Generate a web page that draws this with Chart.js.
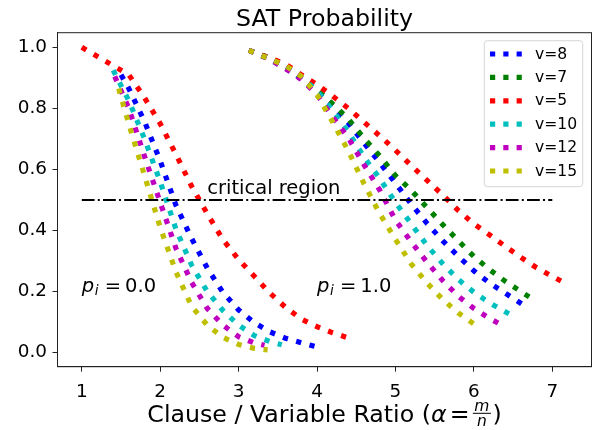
<!DOCTYPE html>
<html>
<head>
<meta charset="utf-8">
<script src="https://cdn.jsdelivr.net/npm/chart.js@4.4.1/dist/chart.umd.min.js"></script>
<style>
  html, body { margin: 0; padding: 0; background: #ffffff; }
  canvas { display: block; }
</style>
</head>
<body>
<canvas id="c" width="593" height="430" style="width:593px;height:430px"></canvas>
<script>
// ---------------- DATA ----------------
const chartTitle = 'SAT Probability';
const seriesLabels = ['v=8', 'v=7', 'v=5', 'v=10', 'v=12', 'v=15'];

// p_i = 0.0 curves (left group)
const aLeftV8  = [1.5, 1.6, 1.8, 2.0, 2.2, 2.4, 2.6, 2.8, 3.0, 3.2, 3.4, 3.6, 3.8, 3.97];
const pLeftV8  = [0.91, 0.865, 0.757, 0.628, 0.483, 0.374, 0.277, 0.197, 0.14, 0.098, 0.068, 0.047, 0.032, 0.021];
const aLeftV5  = [1.0, 1.2, 1.4, 1.6, 1.8, 2.0, 2.2, 2.4, 2.6, 2.8, 3.0, 3.2, 3.4, 3.6, 3.8, 4.0, 4.2, 4.4];
const pLeftV5  = [1.0, 0.97, 0.94, 0.91, 0.835, 0.75, 0.65, 0.545, 0.455, 0.37, 0.305, 0.25, 0.195, 0.148, 0.11, 0.085, 0.065, 0.048];
const aLeftV10 = [1.4, 1.6, 1.8, 2.0, 2.2, 2.4, 2.6, 2.8, 3.0, 3.2, 3.4, 3.55];
const pLeftV10 = [0.925, 0.825, 0.70, 0.56, 0.405, 0.287, 0.20, 0.138, 0.09, 0.056, 0.036, 0.026];
const aLeftV12 = [1.42, 1.6, 1.8, 2.0, 2.2, 2.4, 2.6, 2.8, 3.0, 3.2, 3.33];
const pLeftV12 = [0.905, 0.80, 0.643, 0.492, 0.342, 0.23, 0.145, 0.09, 0.052, 0.032, 0.024];
const aLeftV15 = [1.47, 1.6, 1.8, 2.0, 2.2, 2.4, 2.6, 2.8, 3.0, 3.2, 3.37];
const pLeftV15 = [0.865, 0.748, 0.58, 0.41, 0.265, 0.152, 0.09, 0.05, 0.027, 0.014, 0.009];

// p_i = 1.0 curves (right group)
const aRightV8  = [3.13, 3.4, 3.6, 3.8, 4.0, 4.2, 4.4, 4.6, 4.8, 5.0, 5.2, 5.4, 5.6, 5.8, 6.0, 6.2, 6.4, 6.62];
const pRightV8  = [0.99, 0.965, 0.94, 0.895, 0.855, 0.808, 0.752, 0.686, 0.622, 0.555, 0.487, 0.424, 0.367, 0.316, 0.268, 0.228, 0.195, 0.158];
const aRightV7  = [3.13, 3.4, 3.6, 3.8, 4.0, 4.2, 4.4, 4.6, 4.8, 5.0, 5.2, 5.4, 5.6, 5.8, 6.0, 6.2, 6.4, 6.6, 6.71];
const pRightV7  = [0.99, 0.965, 0.94, 0.9, 0.86, 0.815, 0.765, 0.702, 0.644, 0.58, 0.532, 0.476, 0.42, 0.367, 0.315, 0.272, 0.234, 0.2, 0.182];
const aRightV5  = [3.13, 3.4, 3.6, 3.8, 4.0, 4.2, 4.4, 4.6, 4.8, 5.0, 5.2, 5.4, 5.6, 5.8, 6.0, 6.2, 6.4, 6.6, 6.8, 7.0, 7.2];
const pRightV5  = [0.99, 0.965, 0.945, 0.91, 0.878, 0.84, 0.8, 0.755, 0.71, 0.663, 0.613, 0.565, 0.517, 0.466, 0.422, 0.386, 0.348, 0.312, 0.278, 0.25, 0.222];
const aRightV10 = [3.13, 3.4, 3.6, 3.8, 4.0, 4.2, 4.4, 4.6, 4.8, 5.0, 5.2, 5.4, 5.6, 5.8, 6.0, 6.2, 6.4, 6.5];
const pRightV10 = [0.99, 0.96, 0.93, 0.902, 0.858, 0.793, 0.722, 0.64, 0.57, 0.492, 0.422, 0.352, 0.292, 0.24, 0.198, 0.163, 0.134, 0.12];
const aRightV12 = [3.13, 3.4, 3.6, 3.8, 4.0, 4.2, 4.4, 4.6, 4.8, 5.0, 5.2, 5.4, 5.6, 5.8, 6.0, 6.2, 6.33];
const pRightV12 = [0.99, 0.96, 0.93, 0.895, 0.845, 0.772, 0.703, 0.615, 0.532, 0.434, 0.363, 0.297, 0.237, 0.185, 0.145, 0.112, 0.094];
const aRightV15 = [3.13, 3.4, 3.6, 3.8, 4.0, 4.2, 4.4, 4.6, 4.8, 5.0, 5.2, 5.4, 5.6, 5.8, 6.0];
const pRightV15 = [0.99, 0.962, 0.94, 0.905, 0.845, 0.755, 0.66, 0.553, 0.455, 0.371, 0.291, 0.229, 0.175, 0.13, 0.094];

// critical region reference line
const criticalA = [1.0, 7.0];
const criticalP = [0.5, 0.5];

// ticks
const xTicks = [1, 2, 3, 4, 5, 6, 7];
const yTicks = [0.0, 0.2, 0.4, 0.6, 0.8, 1.0];

// annotation texts
const annCritical = { text: 'critical region', a: 2.6, p: 0.52 };
const annP0 = { value: '0.0', a: 1.0, p: 0.2 };
const annP1 = { value: '1.0', a: 4.0, p: 0.2 };

// ---------------- STYLE ----------------
const FONT = "'DejaVu Sans', 'Liberation Sans', sans-serif";
const seriesColors = { 'v=8': '#0000ff', 'v=7': '#008000', 'v=5': '#ff0000', 'v=10': '#00bfbf', 'v=12': '#bf00bf', 'v=15': '#bfbf00' };
const LW = 5.2;
const DOT_DASH = [LW, 1.65 * LW];

function pts(xs, ys) { return xs.map((x, i) => ({ x: x, y: ys[i] })); }

const curveSpecs = [
  ['v=8', aLeftV8, pLeftV8], ['v=8', aRightV8, pRightV8],
  ['v=7', aRightV7, pRightV7],
  ['v=5', aLeftV5, pLeftV5], ['v=5', aRightV5, pRightV5],
  ['v=10', aLeftV10, pLeftV10], ['v=10', aRightV10, pRightV10],
  ['v=12', aLeftV12, pLeftV12], ['v=12', aRightV12, pRightV12],
  ['v=15', aLeftV15, pLeftV15], ['v=15', aRightV15, pRightV15]
];

const datasets = curveSpecs.map(([lab, xs, ys]) => ({
  label: lab,
  data: pts(xs, ys),
  borderColor: seriesColors[lab],
  backgroundColor: seriesColors[lab],
  borderWidth: LW,
  borderDash: DOT_DASH,
  borderCapStyle: 'butt',
  borderJoinStyle: 'round',
  pointRadius: 0,
  tension: 0,
  fill: false
}));
datasets.push({
  label: 'critical',
  data: pts(criticalA, criticalP),
  borderColor: '#000000',
  borderWidth: 2,
  borderDash: [12.8, 3.2, 2, 3.2],
  borderCapStyle: 'butt',
  pointRadius: 0,
  tension: 0,
  fill: false
});
const N = datasets.length;
datasets.forEach((d, i) => { d.order = N - i; });

// ---------------- PLUGINS ----------------
const framePlugin = {
  id: 'frame',
  afterDraw(chart) {
    const { ctx, chartArea: ca } = chart;
    ctx.save();
    ctx.strokeStyle = '#222222';
    ctx.lineWidth = 1;
    ctx.strokeRect(ca.left, ca.top, ca.right - ca.left, ca.bottom - ca.top);
    // title centred over the plot area
    ctx.fillStyle = '#000';
    ctx.textAlign = 'center';
    ctx.textBaseline = 'alphabetic';
    ctx.font = '23.7px ' + FONT;
    ctx.fillText(chartTitle, (ca.left + ca.right) / 2, 26);
    ctx.restore();
  }
};

function drawPi(ctx, x, y, value) {
  const fs = 19.5;
  ctx.fillStyle = '#000';
  ctx.textBaseline = 'alphabetic';
  ctx.textAlign = 'left';
  ctx.font = 'italic ' + fs + 'px ' + FONT;
  ctx.fillText('p', x, y);
  ctx.font = 'italic ' + (fs * 0.7).toFixed(2) + 'px ' + FONT;
  ctx.fillText('i', x + 0.67 * fs, y + 0.16 * fs);
  ctx.font = fs + 'px ' + FONT;
  ctx.fillText('=', x + 1.18 * fs, y);
  ctx.fillText(value, x + 2.22 * fs, y);
}

const annotationPlugin = {
  id: 'annotations',
  afterDatasetsDraw(chart) {
    const { ctx, scales: { x: sx, y: sy }, chartArea: ca } = chart;
    ctx.save();
    // critical region text
    ctx.fillStyle = '#000';
    ctx.textAlign = 'left';
    ctx.textBaseline = 'alphabetic';
    ctx.font = '19.5px ' + FONT;
    ctx.fillText(annCritical.text, sx.getPixelForValue(annCritical.a), sy.getPixelForValue(annCritical.p));
    // p_i labels
    drawPi(ctx, sx.getPixelForValue(annP0.a), sy.getPixelForValue(annP0.p), annP0.value);
    drawPi(ctx, sx.getPixelForValue(annP1.a), sy.getPixelForValue(annP1.p), annP1.value);

    // legend
    const bw = 98.4, bh = 146;
    const bx = ca.right - 107.2, by = ca.top + 8;
    ctx.beginPath();
    if (ctx.roundRect) ctx.roundRect(bx, by, bw, bh, 3); else ctx.rect(bx, by, bw, bh);
    ctx.fillStyle = 'rgba(255,255,255,0.8)';
    ctx.fill();
    ctx.strokeStyle = 'rgba(204,204,204,0.8)';
    ctx.lineWidth = 1;
    ctx.stroke();
    seriesLabels.forEach((lab, i) => {
      const cy = by + 13.3 + i * 23.4;
      ctx.beginPath();
      ctx.setLineDash([LW, 8.1]);
      ctx.lineCap = 'butt';
      ctx.strokeStyle = seriesColors[lab];
      ctx.lineWidth = LW;
      ctx.moveTo(bx + 5.7, cy);
      ctx.lineTo(bx + 38, cy);
      ctx.stroke();
      ctx.setLineDash([]);
      ctx.fillStyle = '#000';
      ctx.font = '15.6px ' + FONT;
      ctx.textBaseline = 'middle';
      ctx.fillText(lab, bx + 50.7, cy + 0.5);
    });

    // x-axis title with fraction
    const fs = 23.7, ffs = 15.5;
    const regular = fs + 'px ' + FONT;
    const ital = 'italic ' + fs + 'px ' + FONT;
    const fItal = 'italic ' + ffs + 'px ' + FONT;
    const part1 = 'Clause / Variable Ratio (';
    ctx.font = regular; const w1 = ctx.measureText(part1).width;
    ctx.font = ital; const wa = ctx.measureText('\u03B1').width;
    ctx.font = regular; const we = ctx.measureText('=').width;
    ctx.font = fItal; const wm = ctx.measureText('m').width; const wn = ctx.measureText('n').width;
    const fw = Math.max(wm, wn) + 3;
    ctx.font = regular; const wp = ctx.measureText(')').width;
    const g1 = 3.2, g2 = 3.2, g3 = 1.5;
    const total = w1 + wa + g1 + we + g2 + fw + g3 + wp;
    let x0 = (ca.left + ca.right) / 2 - total / 2;
    const base = 422.3;
    ctx.textBaseline = 'alphabetic';
    ctx.fillStyle = '#000';
    ctx.font = regular; ctx.fillText(part1, x0, base); x0 += w1;
    ctx.font = ital; ctx.fillText('\u03B1', x0, base); x0 += wa + g1;
    ctx.font = regular; ctx.fillText('=', x0, base); x0 += we + g2;
    ctx.fillRect(x0, 412.8, fw, 1);
    ctx.font = fItal;
    ctx.fillText('m', x0 + (fw - wm) / 2, 410.5);
    ctx.fillText('n', x0 + (fw - wn) / 2, 425.5);
    x0 += fw + g3;
    ctx.font = regular; ctx.fillText(')', x0, base);
    ctx.restore();
  }
};

// ---------------- CHART ----------------
new Chart(document.getElementById('c').getContext('2d'), {
  type: 'line',
  data: { datasets: datasets },
  options: {
    responsive: false,
    animation: false,
    events: [],
    layout: { padding: { left: 0, right: 1.5, top: 32.7, bottom: 0 } },
    plugins: {
      legend: { display: false },
      tooltip: { enabled: false },
      title: { display: false }
    },
    scales: {
      x: {
        type: 'linear',
        min: 0.69,
        max: 7.5,
        afterBuildTicks: (s) => { s.ticks = xTicks.map(v => ({ value: v })); },
        afterFit: (s) => { s.height = 63.3; },
        ticks: {
          color: '#000',
          font: { family: FONT, size: 18.4 },
          padding: 9,
          maxRotation: 0,
          callback: (v) => String(v)
        },
        grid: { drawOnChartArea: false, drawTicks: true, tickLength: 5, tickColor: '#222', tickWidth: 1 },
        border: { display: true, color: '#222', width: 1 }
      },
      y: {
        type: 'linear',
        min: -0.046,
        max: 1.048,
        afterBuildTicks: (s) => { s.ticks = yTicks.map(v => ({ value: v })); },
        afterFit: (s) => { s.width = 57.5; },
        ticks: {
          color: '#000',
          font: { family: FONT, size: 18.4 },
          padding: 5.5,
          callback: (v) => Number(v).toFixed(1)
        },
        grid: { drawOnChartArea: false, drawTicks: true, tickLength: 5, tickColor: '#222', tickWidth: 1 },
        border: { display: true, color: '#222', width: 1 }
      }
    }
  },
  plugins: [framePlugin, annotationPlugin]
});
</script>
</body>
</html>
